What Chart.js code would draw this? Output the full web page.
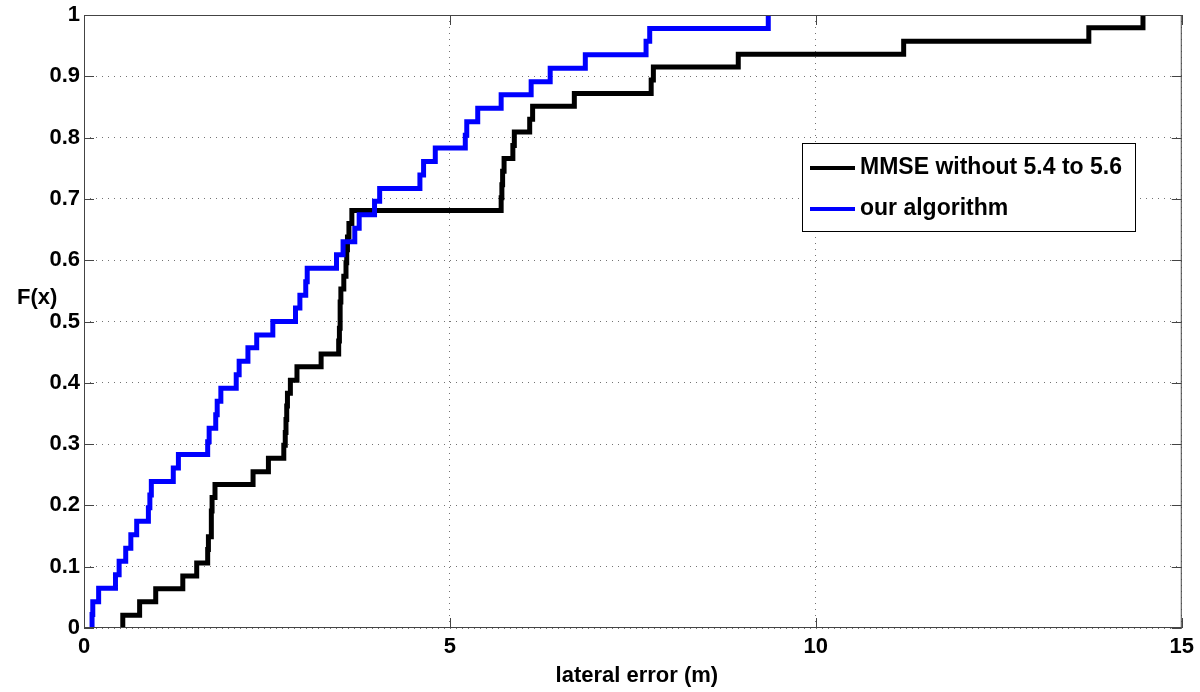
<!DOCTYPE html>
<html>
<head>
<meta charset="utf-8">
<script src="https://cdn.jsdelivr.net/npm/chart.js@4.4.1/dist/chart.umd.min.js"></script>
<style>
  html, body { margin: 0; padding: 0; background: #fff; }
  #wrap { width: 1200px; height: 692px; position: relative; }
</style>
</head>
<body>
<div id="wrap"><canvas id="cdf"></canvas></div>
<script>
// step positions (lateral error, m) and cumulative values
const mmseX = [0.53, 0.53, 0.76, 0.98, 1.35, 1.54, 1.69, 1.70, 1.74, 1.74, 1.75, 1.79, 2.31, 2.52, 2.73, 2.75,
  2.76, 2.77, 2.78, 2.82, 2.91, 3.24, 3.48, 3.49, 3.50, 3.50, 3.51, 3.55, 3.58, 3.59, 3.60, 3.62, 3.66,
  5.70, 5.71, 5.72, 5.74, 5.86, 5.88, 6.09, 6.13, 6.70, 7.75, 7.78, 8.94, 11.20, 13.73, 14.47];
const mmseY = [0, 0.021, 0.043, 0.064, 0.085, 0.106, 0.128, 0.149, 0.170, 0.191, 0.213, 0.234, 0.255, 0.277,
  0.298, 0.319, 0.340, 0.362, 0.383, 0.404, 0.426, 0.447, 0.468, 0.489, 0.511, 0.532, 0.553, 0.574, 0.596,
  0.617, 0.638, 0.660, 0.681, 0.702, 0.723, 0.745, 0.766, 0.787, 0.809, 0.830, 0.851, 0.872, 0.894, 0.915,
  0.936, 0.957, 0.979, 1.0];
const oursX = [0.11, 0.11, 0.12, 0.20, 0.43, 0.48, 0.57, 0.64, 0.72, 0.88, 0.90, 0.92, 1.22, 1.29, 1.69, 1.71,
  1.80, 1.82, 1.87, 2.08, 2.12, 2.24, 2.36, 2.58, 2.89, 2.95, 3.03, 3.05, 3.45, 3.54, 3.70, 3.76, 3.97, 4.04,
  4.59, 4.64, 4.80, 5.21, 5.23, 5.38, 5.70, 6.11, 6.37, 6.85, 7.68, 7.73, 9.35];
const oursY = [0, 0.022, 0.043, 0.065, 0.087, 0.109, 0.130, 0.152, 0.174, 0.196, 0.217, 0.239, 0.261, 0.283,
  0.304, 0.326, 0.348, 0.370, 0.391, 0.413, 0.435, 0.457, 0.478, 0.500, 0.522, 0.543, 0.565, 0.587, 0.609,
  0.630, 0.652, 0.674, 0.696, 0.717, 0.739, 0.761, 0.783, 0.804, 0.826, 0.848, 0.870, 0.891, 0.913, 0.935,
  0.957, 0.978, 1.0];

const legendLabels = ['MMSE without 5.4 to 5.6', 'our algorithm'];
const lineColors = ['#000000', '#0000ff'];
const xTitle = 'lateral error (m)';
const yTitle = 'F(x)';

const FONT = 'bold 22px "Liberation Sans", Arial, sans-serif';
const toPoints = (xs, ys) => xs.map((x, i) => ({ x: x, y: ys[i] }));

// box, inward ticks, horizontal y label, x title and legend (matlab look)
const matlabFrame = {
  id: 'matlabFrame',
  afterDraw(chart) {
    const ctx = chart.ctx;
    const a = chart.chartArea;
    const xs = chart.scales.x, ys = chart.scales.y;
    ctx.save();
    ctx.strokeStyle = '#444';
    ctx.lineWidth = 1;
    ctx.strokeRect(a.left + 0.5, a.top + 0.5, a.right - a.left - 1, a.bottom - a.top - 1);
    ctx.beginPath();
    xs.ticks.forEach(t => {
      const px = Math.round(xs.getPixelForValue(t.value)) + 0.5;
      ctx.moveTo(px, a.bottom); ctx.lineTo(px, a.bottom - 10);
      ctx.moveTo(px, a.top); ctx.lineTo(px, a.top + 10);
    });
    ys.ticks.forEach(t => {
      const py = Math.round(ys.getPixelForValue(t.value)) + 0.5;
      ctx.moveTo(a.left, py); ctx.lineTo(a.left + 10, py);
      ctx.moveTo(a.right, py); ctx.lineTo(a.right - 10, py);
    });
    ctx.stroke();

    ctx.fillStyle = '#000';
    ctx.font = FONT;
    ctx.textBaseline = 'middle';
    ctx.textAlign = 'left';
    ctx.fillText(yTitle, 17, 298);
    ctx.textAlign = 'center';
    ctx.fillText(xTitle, (a.left + a.right) / 2 + 4, 676);

    // legend
    const lx = 802, ly = 143, lw = 333, lh = 88;
    ctx.fillStyle = '#fff';
    ctx.fillRect(lx, ly, lw, lh);
    ctx.strokeStyle = '#000';
    ctx.lineWidth = 1;
    ctx.strokeRect(lx + 0.5, ly + 0.5, lw, lh);
    ctx.font = 'bold 23px "Liberation Sans", Arial, sans-serif';
    ctx.textAlign = 'left';
    legendLabels.forEach((lab, i) => {
      const yy = ly + 25 + i * 41;
      ctx.strokeStyle = lineColors[i];
      ctx.lineWidth = 4;
      ctx.beginPath();
      ctx.moveTo(810, yy); ctx.lineTo(855, yy);
      ctx.stroke();
      ctx.fillStyle = '#000';
      ctx.fillText(lab, 860, yy);
    });
    ctx.restore();
  }
};

new Chart(document.getElementById('cdf').getContext('2d'), {
  type: 'line',
  data: {
    datasets: [
      {
        label: legendLabels[0],
        data: toPoints(mmseX, mmseY),
        borderColor: lineColors[0],
        borderWidth: 5,
        pointRadius: 0,
        stepped: true,
        fill: false,
        order: 1,
      },
      {
        label: legendLabels[1],
        data: toPoints(oursX, oursY),
        borderColor: lineColors[1],
        borderWidth: 5,
        pointRadius: 0,
        stepped: true,
        fill: false,
        order: 0,
      },
    ],
  },
  options: {
    responsive: true,
    maintainAspectRatio: false,
    animation: false,
    layout: { padding: { top: 15, right: 17, left: 0, bottom: 0 } },
    plugins: {
      legend: { display: false },
      tooltip: { enabled: false },
    },
    scales: {
      x: {
        type: 'linear',
        min: 0,
        max: 15,
        ticks: { stepSize: 5, color: '#000', padding: 6, font: { family: '"Liberation Sans", Arial, sans-serif', size: 22, weight: 'bold' } },
        grid: { color: 'rgba(0,0,0,0.55)', drawTicks: false, lineWidth: 1 },
        border: { display: false, dash: [1, 5] },
        afterFit(scale) { scale.height = 64; },
      },
      y: {
        min: 0,
        max: 1,
        ticks: {
          stepSize: 0.1,
          color: '#000',
          padding: 4,
          font: { family: '"Liberation Sans", Arial, sans-serif', size: 22, weight: 'bold', lineHeight: 0.9 },
          callback: v => String(Math.round(v * 10) / 10),
        },
        grid: { color: 'rgba(0,0,0,0.55)', drawTicks: false, lineWidth: 1 },
        border: { display: false, dash: [1, 5] },
        afterFit(scale) { scale.width = 84; },
      },
    },
  },
  plugins: [matlabFrame],
});
</script>
</body>
</html>
